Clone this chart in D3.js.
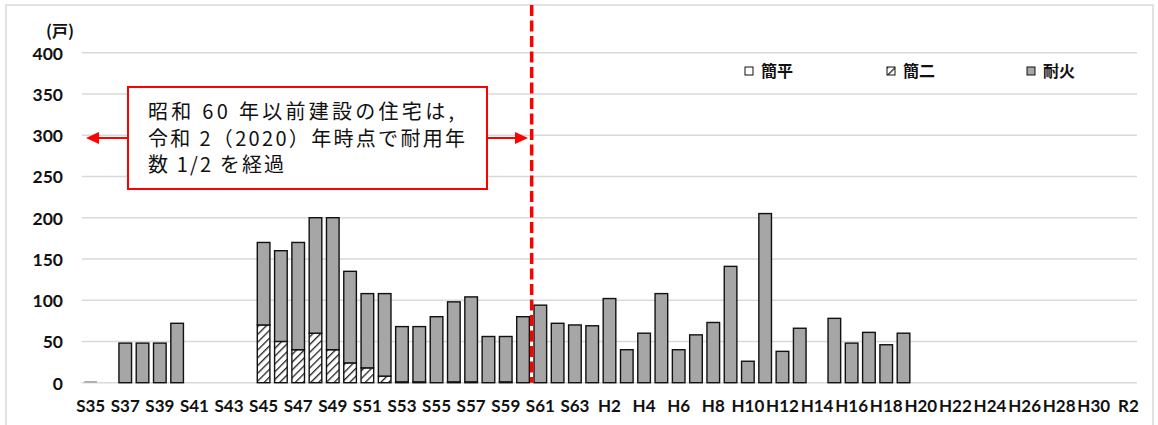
<!DOCTYPE html>
<html>
<head>
<meta charset="utf-8">
<script src="https://cdn.jsdelivr.net/npm/d3@7"></script>
<style>
  html, body { margin: 0; padding: 0; background: #fff; }
  svg { display: block; }
</style>
</head>
<body>
<svg id="chart" width="1158" height="425"></svg>
<script>
// Construction year (Showa / Heisei / Reiwa)
const categories = [
  "S35","S36","S37","S38","S39","S40","S41","S42","S43","S44",
  "S45","S46","S47","S48","S49","S50","S51","S52","S53","S54",
  "S55","S56","S57","S58","S59","S60","S61","S62","S63",
  "H1","H2","H3","H4","H5","H6","H7","H8","H9","H10",
  "H11","H12","H13","H14","H15","H16","H17","H18","H19","H20",
  "H21","H22","H23","H24","H25","H26","H27","H28","H29","H30",
  "R1","R2"
];

// Dwelling units by structure type
const kanpei = [
  0,0,0,0,0,0,0,0,0,0,
  0,0,0,0,0,0,0,0,1,1,
  0,1,1,0,1,0,0,0,0,
  0,0,0,0,0,0,0,0,0,0,
  0,0,0,0,0,0,0,0,0,0,
  0,0,0,0,0,0,0,0,0,0,
  0,0
];
const kanni = [
  0,0,0,0,0,0,0,0,0,0,
  70,50,40,60,40,24,18,8,0,0,
  0,0,0,0,0,0,0,0,0,
  0,0,0,0,0,0,0,0,0,0,
  0,0,0,0,0,0,0,0,0,0,
  0,0,0,0,0,0,0,0,0,0,
  0,0
];
const taika = [
  2,0,48,48,48,72,0,0,0,0,
  100,110,130,140,160,111,90,100,67,67,
  80,97,103,56,55,80,94,72,70,
  69,102,40,60,108,40,58,73,141,26,
  205,38,66,0,78,48,61,46,60,0,
  0,0,0,0,0,0,0,0,0,0,
  0,0
];

const seriesKeys = ["簡平", "簡二", "耐火"];
const yTicks = [0, 50, 100, 150, 200, 250, 300, 350, 400];
const cutoffAfter = "S60";
const noteLines = [
  "昭和 60 年以前建設の住宅は,",
  "令和 2（2020）年時点で耐用年",
  "数 1/2 を経過"
];

const svg = d3.select("#chart");
const margin = { left: 82, right: 1137, top: 52.7, bottom: 382.7 };

// outer frame
svg.append("rect")
  .attr("x", 6).attr("y", 5).attr("width", 1147).attr("height", 430)
  .attr("fill", "none").attr("stroke", "#d9d9d9").attr("stroke-width", 1.5);

const x = d3.scaleBand().domain(categories).range([margin.left, margin.right]).paddingInner(0.27).paddingOuter(0.135);
const y = d3.scaleLinear().domain([0, 400]).range([margin.bottom, margin.top]);

// hatch pattern for 簡二
const defs = svg.append("defs");
const pat = defs.append("pattern")
  .attr("id", "hatch").attr("patternUnits", "userSpaceOnUse")
  .attr("width", 5.5).attr("height", 5.5)
  .attr("patternTransform", "rotate(45)");
pat.append("rect").attr("width", 5.5).attr("height", 5.5).attr("fill", "#fff");
pat.append("line").attr("x1", 0).attr("y1", 0).attr("x2", 0).attr("y2", 5.5)
  .attr("stroke", "#222").attr("stroke-width", 2.6);

const fills = { "簡平": "#ffffff", "簡二": "url(#hatch)", "耐火": "#a6a6a6" };

// gridlines
svg.append("g").selectAll("line").data(yTicks).join("line")
  .attr("x1", margin.left).attr("x2", margin.right)
  .attr("y1", d => y(d)).attr("y2", d => y(d))
  .attr("stroke", "#d9d9d9").attr("stroke-width", 1.5);

// y axis labels
const yAxis = d3.axisLeft(y).tickValues(yTicks).tickSize(0).tickPadding(0);
const gy = svg.append("g").attr("transform", "translate(63,0)").call(yAxis);
gy.select(".domain").remove();
gy.selectAll("text")
  .attr("font-family", "Lato, 'Open Sans', sans-serif")
  .attr("font-weight", "bold").attr("font-size", 17.5).attr("fill", "#111")
  .attr("dy", "0.36em");

svg.append("text").attr("x", 60).attr("y", 37)
  .attr("text-anchor", "middle")
  .attr("font-family", "'Noto Sans CJK JP', sans-serif")
  .attr("font-weight", "bold").attr("font-size", 16).attr("fill", "#111")
  .text("(戸)");

// x axis labels (every other year)
const xAxis = d3.axisBottom(x)
  .tickValues(categories.filter((d, i) => i % 2 === 0))
  .tickSize(0).tickPadding(0);
const gx = svg.append("g").attr("transform", "translate(0,400)").call(xAxis);
gx.select(".domain").remove();
gx.selectAll("text")
  .attr("font-family", "Lato, 'Open Sans', sans-serif")
  .attr("font-weight", "bold").attr("font-size", 17).attr("fill", "#111")
  .attr("dy", "0.72em");

// stacked bars
const rows = categories.map((c, i) => ({ cat: c, "簡平": kanpei[i], "簡二": kanni[i], "耐火": taika[i] }));
const totals = rows.map(r => r["簡平"] + r["簡二"] + r["耐火"]);
const stacked = d3.stack().keys(seriesKeys)(rows);

svg.append("g").selectAll("g").data(stacked).join("g")
  .attr("fill", s => fills[s.key])
  .selectAll("rect").data(s => s.filter(d => d[1] - d[0] > 0)).join("rect")
  .attr("x", d => x(d.data.cat))
  .attr("width", x.bandwidth())
  .attr("y", d => y(d[1]))
  .attr("height", d => y(d[0]) - y(d[1]))
  .attr("stroke", d => (totals[categories.indexOf(d.data.cat)] >= 5 ? "#111" : "none"))
  .attr("stroke-width", 1.4);

// cutoff line between S60 and S61
const cutX = x(cutoffAfter) + x.step() - (x.step() - x.bandwidth()) / 2;
svg.append("line")
  .attr("x1", cutX).attr("x2", cutX)
  .attr("y1", 5).attr("y2", margin.bottom)
  .attr("stroke", "#ff0000").attr("stroke-width", 3.5)
  .attr("stroke-dasharray", "11,4.5");

// legend
const legend = svg.append("g");
const legendPos = [745, 887, 1027];
seriesKeys.forEach((k, i) => {
  const lg = legend.append("g").attr("transform", `translate(${legendPos[i]},67)`);
  lg.append("rect").attr("width", 8).attr("height", 8)
    .attr("fill", k === "簡二" ? "url(#hatch)" : fills[k])
    .attr("stroke", "#111").attr("stroke-width", 1);
  lg.append("text").attr("x", 16).attr("y", 9.5)
    .attr("font-family", "'Noto Sans CJK JP', sans-serif")
    .attr("font-weight", "bold").attr("font-size", 16).attr("fill", "#111")
    .text(k);
});

// annotation box with arrows
const box = { x: 128, y: 87, w: 359, h: 102 };
const arrowY = 138;
const red = "#ff0000";
svg.append("line").attr("x1", box.x).attr("x2", 96).attr("y1", arrowY).attr("y2", arrowY)
  .attr("stroke", red).attr("stroke-width", 2);
svg.append("path").attr("d", `M86,${arrowY} L99,${arrowY - 6} L99,${arrowY + 6} Z`).attr("fill", red);
svg.append("line").attr("x1", box.x + box.w).attr("x2", 517).attr("y1", arrowY).attr("y2", arrowY)
  .attr("stroke", red).attr("stroke-width", 2);
svg.append("path").attr("d", `M528,${arrowY} L515,${arrowY - 6} L515,${arrowY + 6} Z`).attr("fill", red);

svg.append("rect")
  .attr("x", box.x).attr("y", box.y).attr("width", box.w).attr("height", box.h)
  .attr("fill", "#fff").attr("stroke", red).attr("stroke-width", 2);

// three-line note as one text block
const lineWidths = [306, 317, 136];
svg.append("text")
  .attr("font-family", "'Noto Sans CJK JP', sans-serif")
  .attr("font-size", 20).attr("fill", "#111")
  .selectAll("tspan").data(noteLines).join("tspan")
  .attr("x", 148)
  .attr("y", (d, i) => 119 + i * 26.5)
  .attr("textLength", (d, i) => lineWidths[i])
  .attr("lengthAdjust", "spacing")
  .text(d => d);
</script>
</body>
</html>
